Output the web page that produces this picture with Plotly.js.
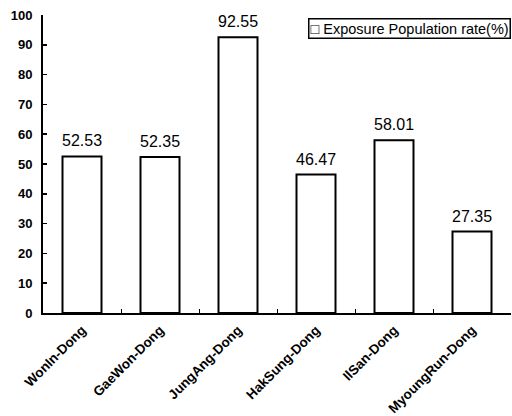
<!DOCTYPE html>
<html>
<head>
<meta charset="utf-8">
<script src="https://cdn.plot.ly/plotly-3.0.1.min.js"></script>
<style>html,body{margin:0;padding:0;background:#fff;}#chart{width:512px;height:416px;}</style>
</head>
<body>
<div id="chart"></div>
<script>
var categories = ["WonIn-Dong", "GaeWon-Dong", "JungAng-Dong", "HakSung-Dong", "IlSan-Dong", "MyoungRun-Dong"];
var values = [52.53, 52.35, 92.55, 46.47, 58.01, 27.35];
var valueLabels = ["52.53", "52.35", "92.55", "46.47", "58.01", "27.35"];
var seriesName = "Exposure Population rate(%)";
var yTicks = [0, 10, 20, 30, 40, 50, 60, 70, 80, 90, 100];

var FONT = "Liberation Sans, Arial, sans-serif";

var trace = {
  type: "bar",
  x: categories,
  y: values,
  name: seriesName,
  marker: {color: "#fff", line: {color: "#000", width: 2}},
  showlegend: false
};

var annotations = categories.map(function (c, i) {
  return {
    x: c, y: values[i], xref: "x", yref: "y",
    text: valueLabels[i], showarrow: false,
    xanchor: "center", yanchor: "bottom", yshift: 5,
    font: {family: FONT, size: 16, color: "#000"}
  };
});
annotations.push({
  x: 1, y: 0.99, xref: "paper", yref: "paper",
  xanchor: "right", yanchor: "top",
  text: "<b>\u25A1</b> " + seriesName, showarrow: false,
  bgcolor: "#fff", bordercolor: "#000", borderwidth: 1.5, borderpad: 1,
  font: {family: FONT, size: 14.5, color: "#000"}
});

var layout = {
  width: 512, height: 416,
  margin: {l: 43, r: 1, t: 15, b: 103},
  paper_bgcolor: "#fff", plot_bgcolor: "#fff",
  bargap: 0.5,
  font: {family: FONT, color: "#000"},
  showlegend: false,
  annotations: annotations,
  xaxis: {
    type: "category",
    range: [-0.5, 5.5],
    showline: true, linecolor: "#000", linewidth: 2,
    ticks: "inside", tickson: "boundaries", ticklen: 4, tickcolor: "#000", tickwidth: 1,
    tickangle: -45,
    ticklabelstandoff: 2,
    tickfont: {size: 13.5, color: "#000", family: FONT, weight: "bold"},
    showgrid: false, zeroline: false, fixedrange: true
  },
  yaxis: {
    range: [0, 100],
    tickvals: yTicks,
    ticktext: yTicks.map(String),
    showline: true, linecolor: "#000", linewidth: 2,
    ticks: "inside", ticklen: 4, tickcolor: "#000", tickwidth: 1.5,
    ticklabelstandoff: 6,
    tickfont: {size: 13, color: "#000", family: FONT, weight: "bold"},
    showgrid: false, zeroline: false, fixedrange: true
  }
};

Plotly.newPlot("chart", [trace], layout, {displayModeBar: false, staticPlot: true});
</script>
</body>
</html>
